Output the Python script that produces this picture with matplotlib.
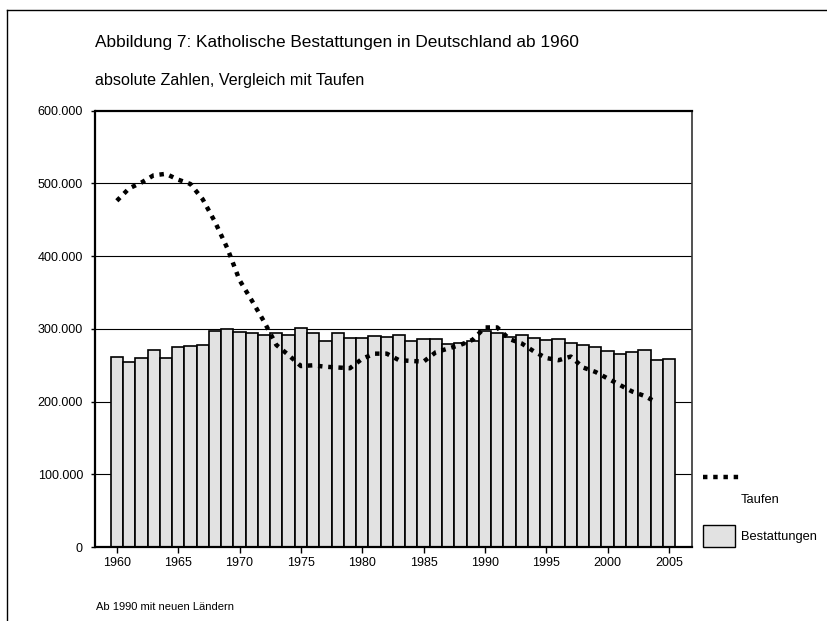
import numpy as np
import matplotlib
matplotlib.use("Agg")
import matplotlib.pyplot as plt
from matplotlib.lines import Line2D
from matplotlib.patches import Rectangle
from matplotlib.ticker import FuncFormatter

plt.rcParams['font.family'] = ['Liberation Sans', 'DejaVu Sans']

years = list(range(1960, 2006))
bestattungen = [262000, 255000, 260000, 271000, 260000, 275000, 277000, 278000, 297000, 300000,
                296000, 294000, 292000, 294000, 292000, 301000, 294000, 283000, 294000, 288000,
                288000, 290000, 289000, 292000, 283000, 286000, 286000, 279000, 281000, 284000,
                297000, 295000, 289000, 292000, 288000, 285000, 286000, 281000, 278000, 275000,
                270000, 266000, 268000, 271000, 257000, 259000]
taufen_years = list(range(1960, 2005))
taufen = [476000, 493000, 501000, 511000, 513000, 505000, 499000, 478000, 447000, 411000,
          367000, 339000, 310000, 278000, 264000, 249000, 250000, 248000, 247000, 246000,
          259000, 266000, 266000, 257000, 256000, 255000, 268000, 273000, 278000, 285000,
          302000, 302000, 286000, 280000, 269000, 260000, 257000, 262000, 247000, 241000,
          232000, 223000, 214000, 208000, 199000]
x_ticks = list(range(1960, 2006, 5))
y_ticks = list(range(0, 600001, 100000))

title = "Abbildung 7: Katholische Bestattungen in Deutschland ab 1960"
subtitle = "absolute Zahlen, Vergleich mit Taufen"
footnote = "Ab 1990 mit neuen Ländern"

W, H = 828, 621
fig = plt.figure(figsize=(W / 100, H / 100), dpi=100)
ax = fig.add_axes([95.5 / W, 1 - 547.3 / H, (692 - 95.5) / W, (547.3 - 110.5) / H])

dots = (0, (1, 1.3))
ax.bar(years, bestattungen, width=1.0, color='#e2e2e2', edgecolor='black',
       linewidth=1.2, zorder=2)
ax.plot(taufen_years, taufen, color='black', linewidth=3.2, linestyle=dots,
        dash_capstyle='butt', zorder=3)

ax.set_xlim(1958.26, 2006.88)
ax.set_ylim(0, 600000)
ax.set_xticks(x_ticks)
ax.set_yticks(y_ticks)
ax.yaxis.set_major_formatter(FuncFormatter(lambda v, p: f"{int(v):,}".replace(",", ".")))
ax.tick_params(axis='both', labelsize=9, colors='black', direction='out')
ax.tick_params(axis='y', length=3, width=1, pad=6)
ax.tick_params(axis='x', length=4, width=1, pad=3)

for v in y_ticks[1:-1]:
    ax.axhline(v, color='black', linewidth=0.8, zorder=1)

for side in ['left', 'bottom', 'top']:
    ax.spines[side].set_linewidth(1.6)
    ax.spines[side].set_color('black')
ax.spines['right'].set_linewidth(1.2)
ax.spines['right'].set_color('#333333')

# texts
fig.text(95 / W, 1 - 42 / H, title, fontsize=12.4, va='center', ha='left')
fig.text(95 / W, 1 - 80 / H, subtitle, fontsize=11.6, va='center', ha='left')
fig.text(96 / W, 1 - 607 / H, footnote, fontsize=8, va='center', ha='left')

# legend, laid out like the original
fig.add_artist(Line2D([703 / W, 742 / W], [1 - 477 / H, 1 - 477 / H], color='black',
                      linewidth=3.2, linestyle=dots, dash_capstyle='butt'))
fig.text(741 / W, 1 - 500 / H, "Taufen", fontsize=9.3, va='center', ha='left')
fig.add_artist(Rectangle((703 / W, 1 - 547 / H), 32 / W, 22 / H, transform=fig.transFigure,
                         facecolor='#e2e2e2', edgecolor='black', linewidth=1.0))
fig.text(741 / W, 1 - 537 / H, "Bestattungen", fontsize=9.3, va='center', ha='left')

# outer frame lines (top and left)
fig.add_artist(Line2D([7 / W, 1], [1 - 10 / H, 1 - 10 / H], color='black', linewidth=1.0))
fig.add_artist(Line2D([7 / W, 7 / W], [0, 1 - 10 / H], color='black', linewidth=1.0))

fig.savefig("out.png", dpi=100)
